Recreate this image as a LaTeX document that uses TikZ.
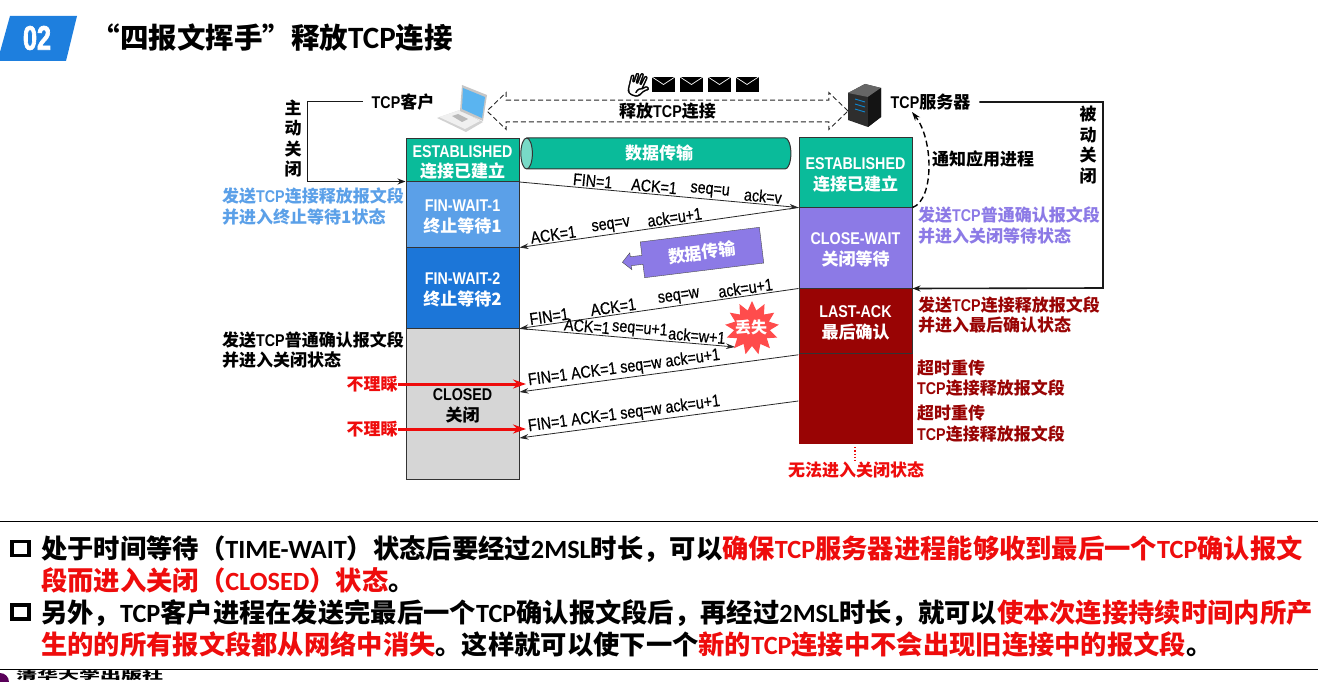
\documentclass[tikz,border=0pt]{standalone}
\usepackage{fontspec}
\setmainfont{Liberation Sans}
\newfontfamily\cjk{Noto Sans CJK SC}
\newfontfamily\nar{Liberation Sans}[FakeStretch=0.84]
\newfontfamily\cali{Carlito}
\newfontfamily\emo{Noto Emoji}[FakeBold=1.5]
\newcommand{\en}[1]{{\nar #1}}
\newcommand{\hd}[1]{\rule{0pt}{17pt}{\nar #1}}
\newcommand{\cb}[1]{{\cali #1}}
\newcommand{\rd}[1]{\textcolor{lossred}{#1}}
\usetikzlibrary{arrows.meta,shapes.geometric,shapes.arrows}
\definecolor{headblue}{HTML}{1E7FDE}
\definecolor{estgreen}{HTML}{0ABB9A}
\definecolor{waitone}{HTML}{5BA0E8}
\definecolor{waittwo}{HTML}{1C76D8}
\definecolor{closepurple}{HTML}{8C7AE6}
\definecolor{lastred}{HTML}{990404}
\definecolor{closedgray}{HTML}{D6D6D6}
\definecolor{lossred}{HTML}{EE0C0C}
\definecolor{screenblue}{HTML}{5AB4F0}
\begin{document}
\begin{tikzpicture}[x=1pt,y=-1pt]

      \tikzset{state/.style={draw=black!80, line width=1pt, minimum width=113pt, inner sep=0pt, align=center, text=white, font=\bfseries\cjk\fontsize{17}{20.5}\selectfont}}
      \tikzset{seg/.style={sloped, above, inner sep=1.5pt, text=black, font=\nar\fontsize{17}{17}\selectfont\addfontfeature{FakeBold=0.5}}}
      \tikzset{tag/.style={anchor=west, inner sep=0pt, align=left, font=\bfseries\cjk\fontsize{17}{20.5}\selectfont}}
      \tikzset{body/.style={anchor=west, inner sep=0pt, font=\bfseries\cjk\fontsize{26.3}{26}\selectfont}}
      \tikzset{msg/.style={-{Stealth[length=9pt,width=5.5pt]}, line width=.8pt, black!85}}
      \tikzset{lead/.style={-{Stealth[length=8pt,width=6pt]}, line width=1.6pt, black!90}}
      \tikzset{ignore/.style={-{Stealth[length=13pt,width=9pt]}, line width=3pt, lossred}}
      \tikzset{mail/.style={fill=black, minimum width=23pt, minimum height=15pt, inner sep=0pt, path picture={\draw[white, line width=.7pt] (path picture bounding box.north west) -- (path picture bounding box.center) -- (path picture bounding box.north east);}}}
      \tikzset{tick/.style={draw, line width=3.2pt, minimum width=17pt, minimum height=14pt, inner sep=0pt}}
      \useasboundingbox (0,0) rectangle (1318,682);

%% Header
      	\fill[headblue] (10,16) -- (77,16) -- (66,61) -- (0,61) -- (0,52) -- cycle;
      	\node[text=white, inner sep=0pt, font=\bfseries\fontsize{34}{34}\selectfont] (num) at (37,38) {\addfontfeature{FakeStretch=0.74,FakeBold=2}02};
      	\node[anchor=west, inner sep=0pt, font=\bfseries\cjk\fontsize{28.5}{28.5}\selectfont] (title) at (91.5,38) {“四报文挥手”释放{\fontsize{31}{31}\selectfont\cb{TCP}}连接};

%% Laptop and server
      	\fill[gray!35] (437,118) -- (460,110) -- (483,122) -- (466,132) -- cycle;
      	\fill[gray!12] (439,117) -- (460,110) -- (480,121) -- (465,129) -- cycle;
      	\fill[gray!55] (452,116) -- (458,114) -- (468,119) -- (462,122) -- cycle;
      	\fill[gray!45] (462,85) -- (487,95) -- (483,121) -- (460,111) -- cycle;
      	\fill[screenblue] (463,88) -- (485,97) -- (482,118) -- (462,109) -- cycle;
      	\fill[black!82] (848,93) -- (865,84) -- (881,88) -- (881,117) -- (868,127) -- (848,120) -- cycle;
      	\fill[black!60] (848,93) -- (865,84) -- (881,88) -- (868,97) -- cycle;
      	\fill[black!92] (868,97) -- (881,88) -- (881,117) -- (868,127) -- cycle;
      	\draw[cyan!70!blue, line width=.9pt] (855,99) -- (865,102) (855,104) -- (865,107) (855,109) -- (865,112);

%% Release bar
      	\node[rotate=-20, inner sep=0pt, font=\emo\fontsize{24}{24}\selectfont] (hand) at (639,85) {🖐};
      	\node[mail] (m1) at (663.5,84.5) {};
      	\node[mail] (m2) at (691.5,84.5) {};
      	\node[mail] (m3) at (719.5,84.5) {};
      	\node[mail] (m4) at (747,84.5) {};
      	\node[double arrow, draw=black!85, dash pattern=on 5pt off 3pt, line width=.9pt, minimum width=37pt, minimum height=361pt, double arrow head extend=6pt, double arrow tip angle=88, inner sep=0pt, font=\bfseries\cjk\fontsize{17}{17}\selectfont] (rel) at (667.5,111) {释放\en{TCP}连接};

%% States
      	\node[state, fill=estgreen, minimum height=43pt] (estL) at (462.5,160) {\hd{ESTABLISHED}\\连接已建立};
      	\node[state, fill=waitone, minimum height=65pt] (wait1) at (462.5,214.5) {\hd{FIN-WAIT-1}\\终止等待1};
      	\node[state, fill=waittwo, minimum height=81pt] (wait2) at (462.5,287.5) {\hd{FIN-WAIT-2}\\终止等待2};
      	\node[state, fill=closedgray, text=black, minimum height=151pt] (closedL) at (462.5,403.5) {\hd{CLOSED}\\关闭};
      	\node[state, fill=estgreen, minimum height=69pt] (estR) at (855.5,172.5) {\hd{ESTABLISHED}\\连接已建立};
      	\node[state, fill=closepurple, minimum height=81pt] (closeW) at (855.5,247.5) {\hd{CLOSE-WAIT}\\关闭等待};
      	\node[fill=lastred, minimum width=114pt, minimum height=91pt, inner sep=0pt] (lastB) at (855.5,398.5) {};
      	\node[state, fill=lastred, minimum height=65pt] (lastA) at (855.5,320.5) {\hd{LAST-ACK}\\最后确认};
      	\node[cylinder, shape border rotate=180, aspect=.7, minimum width=31pt, minimum height=270pt, inner sep=0pt, draw=black!80, line width=1pt, cylinder uses custom fill, cylinder body fill=estgreen, cylinder end fill=estgreen!55!white, text=white, font=\bfseries\cjk\fontsize{17}{17}\selectfont] (flow) at (659,153.5) {数据传输};
      	\node[arrow box, arrow box arrows={west:20pt}, arrow box shaft width=9pt, arrow box head extend=4pt, arrow box head indent=0pt, rotate=7, draw=black!70, fill=closepurple, minimum width=120pt, minimum height=36pt, inner sep=0pt, text=white, font=\bfseries\cjk\fontsize{17}{17}\selectfont] (back) at (702,252.5) {数据传输};

%% Labels
      	\node[tag, text=waitone] (sendA) at (222,206.5) {发送\en{TCP}连接释放报文段\\并进入终止等待1状态};
      	\node[tag] (sendD) at (222,350) {发送\en{TCP}普通确认报文段\\并进入关闭状态};
      	\node[tag, text=closepurple] (sendB) at (918,225.5) {发送\en{TCP}普通确认报文段\\并进入关闭等待状态};
      	\node[tag, text=lastred] (sendC) at (918,315) {发送\en{TCP}连接释放报文段\\并进入最后确认状态};
      	\node[tag, text=lastred] (retryA) at (917,378) {超时重传\\\en{TCP}连接释放报文段};
      	\node[tag, text=lastred] (retryB) at (917,423.5) {超时重传\\\en{TCP}连接释放报文段};
      	\node[tag, anchor=center, text=lossred] (never) at (856,470) {无法进入关闭状态};
      	\node[tag, anchor=center] (client) at (403,101.5) {\en{TCP}客户};
      	\node[tag, anchor=center] (server) at (930.5,102) {\en{TCP}服务器};
      	\node[tag, anchor=center, align=center] (active) at (293,138.5) {主\\动\\关\\闭};
      	\node[tag, anchor=center, align=center] (passive) at (1088,145) {被\\动\\关\\闭};
      	\node[tag] (notify) at (932,159) {通知应用进程};
      	\node[tag, anchor=center, text=lossred] (skipA) at (372,384) {不理睬};
      	\node[tag, anchor=center, text=lossred] (skipB) at (372,429) {不理睬};
      	\node[star, star points=13, star point ratio=1.5, fill=red!70!white, minimum size=54pt, inner sep=0pt] (lost) at (752,328) {};
      	\node[inner sep=0pt, text=white, font=\bfseries\cjk\fontsize{16}{16}\selectfont] (lostText) at (751,327) {丢失};

%% Free ends
      	\coordinate (lostEnd) at (735,347);
      	\coordinate (hitA) at (526,384);
      	\coordinate (hitB) at (526,429);
      	\coordinate (neverTop) at (855,447);
      	\coordinate (neverEnd) at (855,461);

%Edges
		\draw[msg] (estL.south east) -- node[seg, pos=.26] (a1) {FIN=1} node[seg, pos=.48] (a2) {ACK=1} node[seg, pos=.68] (a3) {seq=u} node[seg, pos=.87] (a4) {ack=v} (estR.south west);
		\draw[msg] (estR.south west) -- node[seg, pos=.44] (b1) {ack=u+1} node[seg, pos=.668] (b2) {seq=v} node[seg, pos=.875] (b3) {ACK=1} (wait1.south east);
		\draw[msg] (closeW.south west) -- node[seg, pos=.186] (c1) {ack=u+1} node[seg, pos=.425] (c2) {seq=w} node[seg, pos=.66] (c3) {ACK=1} node[seg, pos=.89] (c4) {FIN=1} (wait2.south east);
		\draw[msg] (wait2.south east) -- node[seg, pos=.31] (d1) {ACK=1} node[seg, pos=.555] (d2) {seq=u+1} node[seg, pos=.82] (d3) {ack=w+1} (lostEnd);
		\draw[msg] (lastB.north west) ++(0,2) -- node[seg, pos=.62] (e1) {FIN=1 ACK=1 seq=w ack=u+1} (closedL.east |- 0,392);
		\draw[msg] (lastB.west |- 0,401) -- node[seg, pos=.62] (f1) {FIN=1 ACK=1 seq=w ack=u+1} (closedL.east |- 0,438);
		\draw[ignore] (skipA.east) -- (hitA);
		\draw[ignore] (skipB.east) -- (hitB);
		\draw[lead] (client.west) ++(-9,0) -- ++(-55,0) |- (wait1.north west);
		\draw[lead] (server.east) ++(9,0) -| (1103,288) -- (closeW.south east);
		\draw[-{Stealth[length=9pt,width=6pt]}, dash pattern=on 6pt off 3.5pt, line width=1.4pt] (estR.south east) .. controls (934,200) and (934,140) .. (912,112);
		\draw[dotted, line width=1.3pt, lossred] (neverTop) -- (neverEnd);

%% Notes
      	\draw[line width=1pt] (0,521.3) -- (1318,521.3);
      	\draw[line width=1pt] (0,669.5) -- (1318,669.5);
      	\node[tick] (tickA) at (20.5,548.5) {};
      	\node[tick] (tickB) at (20.5,612) {};
      	\node[body] (noteA) at (41,549) {处于时间等待（\cb{TIME-WAIT}）状态后要经过\cb{2MSL}时长，可以\rd{确保\cb{TCP}服务器进程能够收到最后一个\cb{TCP}确认报文}};
      	\node[body] (noteB) at (41,580) {\rd{段而进入关闭（\cb{CLOSED}）状态}。};
      	\node[body] (noteC) at (41,613) {另外，\cb{TCP}客户进程在发送完最后一个\cb{TCP}确认报文段后，再经过\cb{2MSL}时长，就可以\rd{使本次连接持续时间内所产}};
      	\node[body] (noteD) at (41,644) {\rd{生的的所有报文段都从网络中消失}。这样就可以使下一个\rd{新的\cb{TCP}连接中不会出现旧连接中的报文段}。};

%% Logo
      	\fill[violet!70!black] (0,682) circle (9);
      	\node[anchor=west, inner sep=0pt, font=\bfseries\cjk\fontsize{10.5}{10.5}\selectfont] (press) at (16,676) {\addfontfeature{FakeStretch=2}清华大学出版社};

	\end{tikzpicture}
\end{document}
